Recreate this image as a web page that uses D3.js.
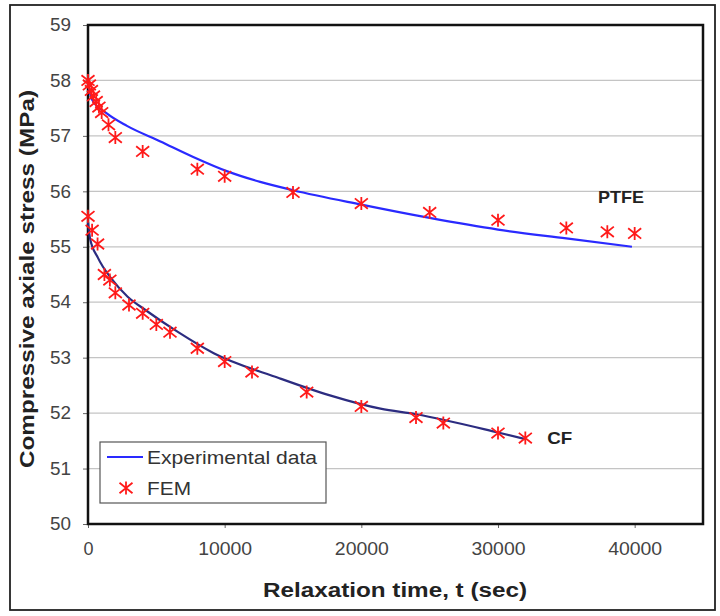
<!DOCTYPE html>
<html><head><meta charset="utf-8">
<script src="https://cdn.jsdelivr.net/npm/d3@7"></script>
<style>body{margin:0;background:#fff}svg{display:block}</style>
</head><body><svg id="c" width="720" height="616"></svg>
<script>
// ---- data ----
const yTicks = [50,51,52,53,54,55,56,57,58,59];
const xTicks = [0,10000,20000,30000,40000];
const ptfeExpT = [0,300,1400,2850,5300,7700,10200,12600,15000,20000,25000,30000,35000,39800];
const ptfeExpV = [57.95,57.65,57.4,57.18,56.9,56.62,56.36,56.17,56.02,55.76,55.52,55.31,55.15,55.0];
const cfExpT = [0,150,730,1700,2900,4200,6600,9200,14000,17700,21400,24000,30000,32000];
const cfExpV = [55.45,55.15,54.8,54.43,54.1,53.86,53.46,53.08,52.63,52.32,52.08,51.98,51.65,51.53];
const ptfeFemT = [0,100,250,400,600,800,1000,1500,2000,4000,8000,10000,15000,20000,25000,30000,35000,38000,40000];
const ptfeFemV = [58.0,57.92,57.82,57.72,57.62,57.52,57.42,57.2,56.97,56.72,56.4,56.27,55.98,55.78,55.62,55.48,55.34,55.27,55.24];
const cfFemT = [0,300,700,1200,1600,2000,3000,4000,5000,6000,8000,10000,12000,16000,20000,24000,26000,30000,32000];
const cfFemV = [55.55,55.3,55.05,54.5,54.4,54.17,53.95,53.8,53.6,53.46,53.17,52.93,52.74,52.38,52.12,51.92,51.82,51.64,51.55];
const seriesNames = ["Experimental data","FEM"];
const curveLabels = ["PTFE","CF"];

// ---- drawing ----
const svg = d3.select("#c");
const L=88,R=703,T=25,B=524;
const x = d3.scaleLinear().domain([0,45000]).range([L,R]);
const y = d3.scaleLinear().domain([50,59]).range([B,T]);
const lf = "Liberation Sans, Arial, sans-serif";

svg.append("rect").attr("x",10).attr("y",5).attr("width",705).attr("height",605)
  .attr("fill","#fff").attr("stroke","#222").attr("stroke-width",1.8);

// grid
svg.append("g").selectAll("line").data(yTicks.filter(d=>d>50&&d<59)).join("line")
  .attr("x1",L).attr("x2",R).attr("y1",d=>y(d)).attr("y2",d=>y(d))
  .attr("stroke","#c4c4c4").attr("stroke-width",1.2);

// axes
const ya = svg.append("g").attr("transform",`translate(${L},0)`)
  .call(d3.axisLeft(y).tickValues(yTicks).tickSize(5).tickPadding(12).tickFormat(d3.format("d")));
const xa = svg.append("g").attr("transform",`translate(0,${B})`)
  .call(d3.axisBottom(x).tickValues(xTicks).tickSize(4).tickPadding(14).tickFormat(d3.format("d")));
[ya,xa].forEach(g=>{
  g.select(".domain").remove();
  g.selectAll(".tick line").attr("stroke","#666");
  g.selectAll("text").attr("font-family",lf).attr("font-size",18).attr("fill","#444");
});
ya.selectAll("text").attr("textLength",21).attr("lengthAdjust","spacingAndGlyphs");
xa.selectAll("text").filter(d=>d>0).attr("textLength",54).attr("lengthAdjust","spacingAndGlyphs");

// frame
svg.append("rect").attr("x",L).attr("y",T).attr("width",R-L).attr("height",B-T)
  .attr("fill","none").attr("stroke","#111").attr("stroke-width",2.5);

// lines
const line = d3.line().x(d=>x(d[0])).y(d=>y(d[1])).curve(d3.curveMonotoneX);
const ptfeExp = ptfeExpT.map((t,i)=>[t,ptfeExpV[i]]);
const cfExp = cfExpT.map((t,i)=>[t,cfExpV[i]]);
svg.append("path").datum(cfExp).attr("d",line).attr("fill","none")
  .attr("stroke","#2c2c80").attr("stroke-width",2.2);
svg.append("path").datum(ptfeExp).attr("d",line).attr("fill","none")
  .attr("stroke","#2a2aff").attr("stroke-width",2.2);

// star markers
function star(g,cx,cy,s){
  const h=s/2;
  g.append("path").attr("d",`M${cx-h},${cy-h*0.8}L${cx+h},${cy+h*0.8}M${cx-h},${cy+h*0.8}L${cx+h},${cy-h*0.8}M${cx},${cy-h}L${cx},${cy+h}`)
   .attr("stroke","#ff1a1a").attr("stroke-width",1.8).attr("fill","none");
}
const mg = svg.append("g");
ptfeFemT.forEach((t,i)=>star(mg,x(t),y(ptfeFemV[i]),13));
cfFemT.forEach((t,i)=>star(mg,x(t),y(cfFemV[i]),13));

// curve labels
svg.append("text").attr("x",598).attr("y",y(56)+12).text(curveLabels[0])
  .attr("font-family",lf).attr("font-weight","bold").attr("font-size",17).attr("fill","#222")
  .attr("textLength",46).attr("lengthAdjust","spacingAndGlyphs");
svg.append("text").attr("x",x(32000)+22).attr("y",y(51.55)+6).text(curveLabels[1])
  .attr("font-family",lf).attr("font-weight","bold").attr("font-size",17).attr("fill","#222")
  .attr("textLength",25).attr("lengthAdjust","spacingAndGlyphs");

// legend
const lg = svg.append("g");
lg.append("rect").attr("x",100).attr("y",442).attr("width",226).attr("height",61)
  .attr("fill","#fff").attr("stroke","#555").attr("stroke-width",1.2);
lg.append("line").attr("x1",107).attr("x2",143).attr("y1",457).attr("y2",457)
  .attr("stroke","#2a2aff").attr("stroke-width",2);
star(lg,126,488,13);
lg.selectAll("text").data(seriesNames).join("text")
  .attr("x",147).attr("y",(d,i)=>464+i*31).text(d=>d)
  .attr("font-family",lf).attr("font-size",19).attr("fill","#333")
  .attr("textLength",(d,i)=>i===0?170:44).attr("lengthAdjust","spacingAndGlyphs");

// axis titles
svg.append("text").attr("x",395).attr("y",597).attr("text-anchor","middle")
  .text("Relaxation time, t (sec)")
  .attr("font-family",lf).attr("font-weight","bold").attr("font-size",20).attr("fill","#222")
  .attr("textLength",264).attr("lengthAdjust","spacingAndGlyphs");
svg.append("text").attr("transform","translate(34,279) rotate(-90)").attr("text-anchor","middle")
  .text("Compressive axiale stress (MPa)")
  .attr("font-family",lf).attr("font-weight","bold").attr("font-size",20).attr("fill","#222")
  .attr("textLength",378).attr("lengthAdjust","spacingAndGlyphs");
</script></body></html>
